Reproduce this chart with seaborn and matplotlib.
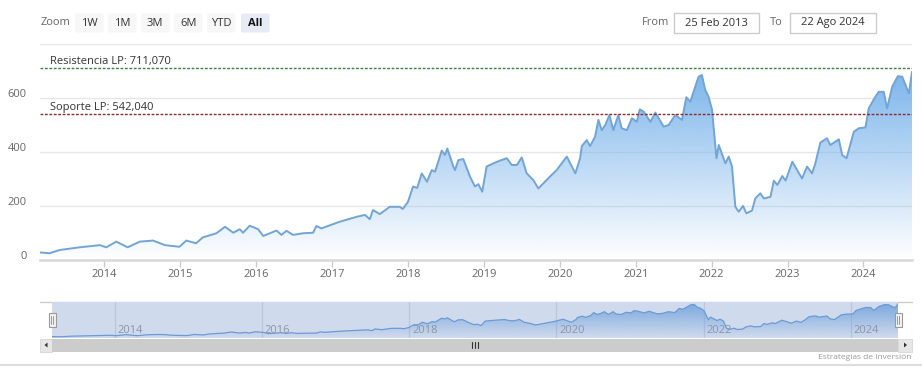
import numpy as np
import pandas as pd
import matplotlib
matplotlib.use("Agg")
import matplotlib.pyplot as plt
import matplotlib.dates as mdates
import matplotlib.transforms as mtransforms
from matplotlib.patches import Rectangle, FancyBboxPatch, Polygon
from matplotlib.colors import to_rgb
import seaborn as sns

# ---------------- data ----------------
dates = ["2013-02-25","2013-04-12","2013-05-30","2013-09-04","2013-12-10",
         "2014-01-10","2014-02-27","2014-04-23","2014-06-20","2014-08-23","2014-10-19","2014-12-28",
         "2015-01-30","2015-03-18","2015-04-20","2015-06-24","2015-08-04","2015-09-13","2015-10-14","2015-10-30","2015-12-01",
         "2016-01-11","2016-02-04","2016-04-08","2016-05-02","2016-05-26","2016-06-27","2016-08-14","2016-10-01","2016-10-17","2016-11-10",
         "2017-01-06","2017-02-07","2017-04-29","2017-06-08","2017-07-01","2017-07-16","2017-08-18","2017-10-05","2017-11-22","2017-12-07",
         "2018-01-01","2018-01-25","2018-02-14","2018-03-08","2018-04-02","2018-04-25","2018-05-11","2018-06-12","2018-06-28","2018-07-09",
         "2018-08-07","2018-08-15","2018-08-31","2018-09-24","2018-10-26","2018-11-19","2018-12-05","2018-12-24",
         "2019-01-14","2019-02-15","2019-03-19","2019-04-21","2019-05-15","2019-06-09","2019-07-02","2019-07-26","2019-08-27","2019-09-20",
         "2019-10-14","2019-11-15","2019-12-17",
         "2020-02-04","2020-03-16","2020-04-08","2020-04-16","2020-05-10","2020-05-26","2020-06-19","2020-07-05","2020-07-21","2020-08-07",
         "2020-08-27","2020-09-15","2020-10-09","2020-10-25","2020-11-19","2020-12-13",
         "2021-01-06","2021-01-20","2021-02-08","2021-03-12","2021-04-05","2021-05-15","2021-06-08","2021-07-10","2021-08-11","2021-09-01",
         "2021-09-20","2021-10-14","2021-10-30","2021-11-15","2021-12-01","2021-12-17",
         "2022-01-03","2022-01-24","2022-02-04","2022-03-08","2022-03-24","2022-04-09","2022-04-25","2022-05-11","2022-06-01","2022-06-17",
         "2022-07-14","2022-07-30","2022-08-23","2022-09-09","2022-10-11","2022-10-27","2022-11-13","2022-12-07","2022-12-23",
         "2023-01-24","2023-03-12","2023-04-05","2023-04-29","2023-05-15","2023-06-08","2023-07-10","2023-07-26","2023-09-05","2023-09-21",
         "2023-10-12","2023-11-16","2023-12-10",
         "2024-01-11","2024-01-27","2024-02-28","2024-03-15","2024-04-08","2024-04-24","2024-05-19","2024-06-15","2024-07-06","2024-08-07",
         "2024-08-22"]
prices = [28,25,37,47,55,
          47,68,47,68,72,55,49,
          72,62,84,99,123,101,114,101,127,
          114,89,109,93,108,93,99,101,126,117,
          133,142,160,167,151,185,170,197,197,189,
          216,272,267,321,290,333,327,405,389,413,346,333,370,374,309,272,281,253,
          346,358,368,377,352,352,380,321,296,265,284,309,333,
          383,321,377,422,444,422,457,519,481,500,537,481,537,488,481,525,
          512,558,549,512,546,494,500,537,519,603,586,642,679,685,630,605,
          556,377,426,358,383,346,197,179,200,173,183,228,247,228,234,294,278,311,294,
          364,302,346,321,358,435,451,426,447,389,377,475,488,
          491,562,605,623,623,562,642,681,679,617,697]

resistance = 711.07
support = 542.04
resistance_label = "Resistencia LP: 711,070"
support_label = "Soporte LP: 542,040"
year_ticks = [2014, 2015, 2016, 2017, 2018, 2019, 2020, 2021, 2022, 2023, 2024]
nav_years = [2014, 2016, 2018, 2020, 2022, 2024]
y_ticks = [0, 200, 400, 600, 800]
y_tick_labels = ["0", "200", "400", "600", ""]
zoom_buttons = ["1W", "1M", "3M", "6M", "YTD", "All"]
from_date = "25 Feb 2013"
to_date = "22 Ago 2024"
credit = "Estrategias de Inversión"

df = pd.DataFrame({"date": pd.to_datetime(dates), "price": prices})

# ---------------- style ----------------
sns.set_theme(style="white")
plt.rcParams["font.family"] = ["Open Sans", "DejaVu Sans"]

W, H = 922, 380
fig = plt.figure(figsize=(W / 100, H / 100), dpi=100)
fig.patch.set_facecolor("white")

def fx(px):
    return px / W

def fy(py):
    return 1 - py / H

LINE_COLOR = "#72a5d5"
FILL_COLOR = "#7cb5ec"

def gradient_fill(ax, xdates, yvals, color, ytop, zorder, amax=1.0):
    xn = mdates.date2num(xdates)
    poly = ax.fill_between(xn, yvals, 0, facecolor="none", edgecolor="none")
    grad = np.zeros((256, 1, 4))
    grad[:, 0, :3] = to_rgb(color)
    grad[:, 0, 3] = np.linspace(0, amax, 256)
    im = ax.imshow(grad, extent=[xn.min(), xn.max(), 0, ytop], origin="lower",
                   aspect="auto", zorder=zorder, interpolation="bilinear")
    im.set_clip_path(poly.get_paths()[0], transform=ax.transData)

# ---------------- overlay (UI chrome) ----------------
ov = fig.add_axes([0, 0, 1, 1], zorder=0)
ov.set_xlim(0, W)
ov.set_ylim(H, 0)
ov.axis("off")

ov.text(41, 22.5, "Zoom", fontsize=8, color="#666666", va="center", ha="left")
btn_x = [75, 108, 141, 174, 207, 241]
for lab, bx in zip(zoom_buttons, btn_x):
    sel = lab == "All"
    ov.add_patch(FancyBboxPatch((bx, 13.5), 28.5, 19, boxstyle="round,pad=0,rounding_size=2",
                                facecolor="#e6ebf5" if sel else "#f7f7f7", edgecolor="none"))
    ov.text(bx + 14.25, 23, lab, fontsize=8, color="#333333" if not sel else "#111111",
            fontweight="bold" if sel else "normal", ha="center", va="center")

ov.text(642, 22.5, "From", fontsize=8, color="#666666", va="center", ha="left")
ov.add_patch(Rectangle((674, 13), 85, 19.5, facecolor="white", edgecolor="#cccccc", lw=1))
ov.text(716.5, 23, from_date, fontsize=8, color="#333333", va="center", ha="center")
ov.text(770, 22.5, "To", fontsize=8, color="#666666", va="center", ha="left")
ov.add_patch(Rectangle((790, 13), 85.5, 19.5, facecolor="white", edgecolor="#cccccc", lw=1))
ov.text(832.7, 23, to_date, fontsize=8, color="#333333", va="center", ha="center")

# navigator outline and scrollbar
ov.plot([40, 912], [302, 302], color="#cccccc", lw=1)
ov.add_patch(Rectangle((40, 338.5), 12, 13.5, facecolor="#e6e6e6", edgecolor="#d0d0d0", lw=0.5))
ov.add_patch(Rectangle((898, 338.5), 14, 13.5, facecolor="#e6e6e6", edgecolor="#d0d0d0", lw=0.5))
ov.add_patch(Rectangle((52, 338.5), 846, 13.5, facecolor="#cccccc", edgecolor="none"))
ov.add_patch(Polygon([[47.5, 342.5], [47.5, 347.5], [44.5, 345]], closed=True, facecolor="#333333", edgecolor="none"))
ov.add_patch(Polygon([[904, 342.5], [904, 347.5], [907, 345]], closed=True, facecolor="#333333", edgecolor="none"))
for rx in (472, 475, 478):
    ov.plot([rx, rx], [341.5, 348], color="#333333", lw=0.8)
ov.text(911, 357.5, credit, fontsize=6, color="#999999", ha="right", va="center")
ov.plot([0, W], [364.5, 364.5], color="#dddddd", lw=1.5)

# ---------------- main chart ----------------
ax = fig.add_axes([fx(40), fy(260), fx(912) - fx(40), (260 - 44) / H], zorder=2)
ax.set_facecolor("white")
gradient_fill(ax, df["date"], df["price"], FILL_COLOR, max(prices), zorder=1)
sns.lineplot(data=df, x="date", y="price", ax=ax, color=LINE_COLOR, linewidth=1.4, zorder=3)

ax.set_xlim(df["date"].iloc[0], df["date"].iloc[-1])
ax.set_ylim(0, 800)
ax.set_xlabel("")
ax.set_ylabel("")

ax.set_xticks(pd.to_datetime([f"{y}-01-01" for y in year_ticks]))
ax.set_xticklabels([str(y) for y in year_ticks])
ax.set_yticks(y_ticks)
ax.set_yticklabels(y_tick_labels)
ax.tick_params(axis="x", labelsize=8, length=5, width=1, direction="out", pad=1.5,
               bottom=True, labelcolor="#666666", color="#cccccc")
ax.tick_params(axis="y", labelsize=8, labelcolor="#666666", length=0, pad=9.5)
for lab in ax.get_yticklabels():
    lab.set_transform(lab.get_transform() + mtransforms.ScaledTranslation(0, 5 / 100, fig.dpi_scale_trans))

ax.grid(axis="y", color="#e6e6e6", lw=1)
ax.grid(axis="x", visible=False)
for s in ["top", "left", "right"]:
    ax.spines[s].set_visible(False)
ax.spines["bottom"].set_color("#d8d8d8")
ax.spines["bottom"].set_linewidth(1.8)
ax.set_axisbelow(True)

ax.axhline(resistance, color="#3f7f3f", lw=1, ls=(0, (2, 1.2)), zorder=4)
ax.axhline(support, color="#8b2a2a", lw=1, ls=(0, (2, 1.2)), zorder=4)
tr = mtransforms.blended_transform_factory(ax.transAxes, ax.transData) + \
    mtransforms.ScaledTranslation(0, 4 / 100, fig.dpi_scale_trans)
ax.text(10 / 872, resistance, resistance_label, transform=tr, fontsize=8, color="#333333",
        ha="left", va="baseline", zorder=5)
ax.text(10 / 872, support, support_label, transform=tr, fontsize=8, color="#333333",
        ha="left", va="baseline", zorder=5)

# ---------------- navigator ----------------
nav = fig.add_axes([fx(52), fy(338), fx(898) - fx(52), 36 / H], zorder=1)
nav.set_facecolor("#d0daed")
for y in nav_years:
    d = pd.Timestamp(f"{y}-01-01")
    nav.axvline(d, color="#bcc7dc", lw=1, zorder=0.5)
    nav.text(d, 0, str(y), fontsize=8, color="#8c96a8", ha="left", va="center",
             transform=mtransforms.blended_transform_factory(nav.transData, nav.transAxes)
             + mtransforms.ScaledTranslation(3 / 100, 7.5 / 100, fig.dpi_scale_trans), zorder=4)
gradient_fill(nav, df["date"], df["price"], "#6b9fdc", max(prices), zorder=1, amax=0.85)
sns.lineplot(data=df, x="date", y="price", ax=nav, color="#6b9bd6", linewidth=0.9, zorder=3)
nav.set_xlim(df["date"].iloc[0], df["date"].iloc[-1])
nav.set_ylim(0, 735)
nav.set_xticks([])
nav.set_yticks([])
nav.set_xlabel("")
nav.set_ylabel("")
for s in nav.spines.values():
    s.set_visible(False)

# navigator handles (drawn on top)
top = fig.add_axes([0, 0, 1, 1], zorder=5)
top.set_xlim(0, W)
top.set_ylim(H, 0)
top.axis("off")
for hx in (52, 898):
    top.add_patch(Rectangle((hx - 3.5, 313), 7, 13.5, facecolor="#f2f2f2", edgecolor="#999999", lw=0.8))
    top.plot([hx - 1, hx - 1], [316, 323.5], color="#999999", lw=0.7)
    top.plot([hx + 1, hx + 1], [316, 323.5], color="#999999", lw=0.7)

fig.savefig("out.png", dpi=100, facecolor="white")
